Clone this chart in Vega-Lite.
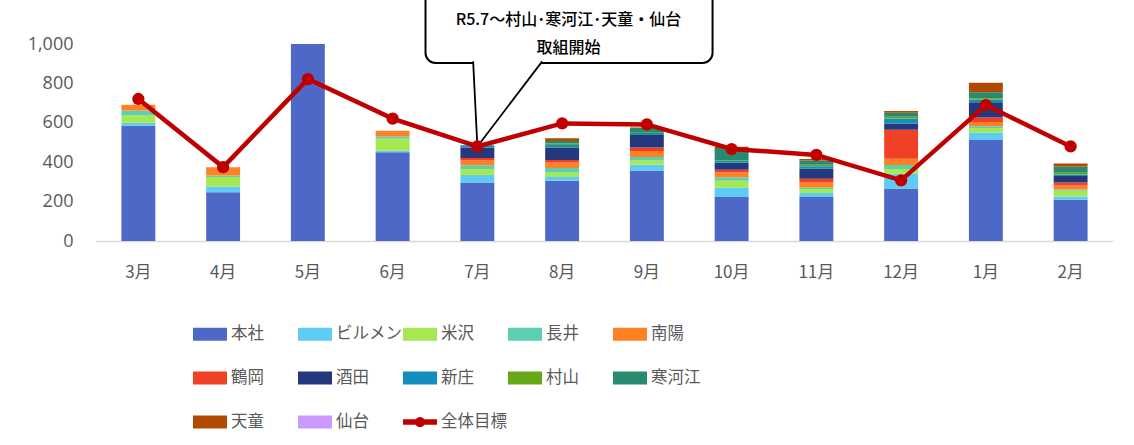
{
  "$schema": "https://vega.github.io/schema/vega-lite/v6.json",
  "width": 1017,
  "height": 197,
  "autosize": {"type": "none"},
  "padding": {"left": 96, "top": 44, "right": 21, "bottom": 204},
  "background": "white",
  "config": {
    "view": {"stroke": null},
    "font": "Noto Sans CJK JP",
    "axis": {"labelFont": "Open Sans", "labelColor": "#595959", "labelFontSize": 18, "titleColor": "#595959"},
    "axisY": {"ticks": false, "domain": false, "grid": true, "gridColor": "#d9d9d9", "gridWidth": 1.5, "labelPadding": 23, "labelOverlap": false, "tickCount": 6}
  },
  "datasets": {
    "bars": [
      {"month": "3月", "series": "本社", "value": 585}, {"month": "3月", "series": "ビルメン", "value": 15}, {"month": "3月", "series": "米沢", "value": 37}, {"month": "3月", "series": "長井", "value": 25}, {"month": "3月", "series": "南陽", "value": 29},
      {"month": "4月", "series": "本社", "value": 247}, {"month": "4月", "series": "ビルメン", "value": 30}, {"month": "4月", "series": "米沢", "value": 48}, {"month": "4月", "series": "長井", "value": 8}, {"month": "4月", "series": "南陽", "value": 41},
      {"month": "5月", "series": "本社", "value": 1000},
      {"month": "6月", "series": "本社", "value": 450}, {"month": "6月", "series": "ビルメン", "value": 8}, {"month": "6月", "series": "米沢", "value": 61}, {"month": "6月", "series": "長井", "value": 12}, {"month": "6月", "series": "南陽", "value": 29},
      {"month": "7月", "series": "本社", "value": 297}, {"month": "7月", "series": "ビルメン", "value": 38}, {"month": "7月", "series": "米沢", "value": 30}, {"month": "7月", "series": "長井", "value": 19}, {"month": "7月", "series": "南陽", "value": 25}, {"month": "7月", "series": "鶴岡", "value": 12}, {"month": "7月", "series": "酒田", "value": 54}, {"month": "7月", "series": "新庄", "value": 10}, {"month": "7月", "series": "寒河江", "value": 2},
      {"month": "8月", "series": "本社", "value": 306}, {"month": "8月", "series": "ビルメン", "value": 19}, {"month": "8月", "series": "米沢", "value": 23}, {"month": "8月", "series": "長井", "value": 22}, {"month": "8月", "series": "南陽", "value": 29}, {"month": "8月", "series": "鶴岡", "value": 12}, {"month": "8月", "series": "酒田", "value": 64}, {"month": "8月", "series": "新庄", "value": 12}, {"month": "8月", "series": "村山", "value": 8}, {"month": "8月", "series": "寒河江", "value": 12}, {"month": "8月", "series": "天童", "value": 14},
      {"month": "9月", "series": "本社", "value": 357}, {"month": "9月", "series": "ビルメン", "value": 30}, {"month": "9月", "series": "米沢", "value": 22}, {"month": "9月", "series": "長井", "value": 17}, {"month": "9月", "series": "南陽", "value": 31}, {"month": "9月", "series": "鶴岡", "value": 17}, {"month": "9月", "series": "酒田", "value": 64}, {"month": "9月", "series": "新庄", "value": 10}, {"month": "9月", "series": "村山", "value": 5}, {"month": "9月", "series": "寒河江", "value": 20}, {"month": "9月", "series": "天童", "value": 3},
      {"month": "10月", "series": "本社", "value": 223}, {"month": "10月", "series": "ビルメン", "value": 49}, {"month": "10月", "series": "米沢", "value": 34}, {"month": "10月", "series": "長井", "value": 17}, {"month": "10月", "series": "南陽", "value": 25}, {"month": "10月", "series": "鶴岡", "value": 14}, {"month": "10月", "series": "酒田", "value": 35}, {"month": "10月", "series": "新庄", "value": 9}, {"month": "10月", "series": "村山", "value": 4}, {"month": "10月", "series": "寒河江", "value": 62}, {"month": "10月", "series": "天童", "value": 7},
      {"month": "11月", "series": "本社", "value": 223}, {"month": "11月", "series": "ビルメン", "value": 21}, {"month": "11月", "series": "米沢", "value": 20}, {"month": "11月", "series": "長井", "value": 8}, {"month": "11月", "series": "南陽", "value": 28}, {"month": "11月", "series": "鶴岡", "value": 16}, {"month": "11月", "series": "酒田", "value": 51}, {"month": "11月", "series": "新庄", "value": 12}, {"month": "11月", "series": "村山", "value": 8}, {"month": "11月", "series": "寒河江", "value": 21}, {"month": "11月", "series": "天童", "value": 8},
      {"month": "12月", "series": "本社", "value": 267}, {"month": "12月", "series": "ビルメン", "value": 75}, {"month": "12月", "series": "米沢", "value": 23}, {"month": "12月", "series": "長井", "value": 21}, {"month": "12月", "series": "南陽", "value": 32}, {"month": "12月", "series": "鶴岡", "value": 147}, {"month": "12月", "series": "酒田", "value": 32}, {"month": "12月", "series": "新庄", "value": 25}, {"month": "12月", "series": "村山", "value": 9}, {"month": "12月", "series": "寒河江", "value": 20}, {"month": "12月", "series": "天童", "value": 9},
      {"month": "1月", "series": "本社", "value": 513}, {"month": "1月", "series": "ビルメン", "value": 38}, {"month": "1月", "series": "米沢", "value": 22}, {"month": "1月", "series": "長井", "value": 9}, {"month": "1月", "series": "南陽", "value": 22}, {"month": "1月", "series": "鶴岡", "value": 23}, {"month": "1月", "series": "酒田", "value": 77}, {"month": "1月", "series": "新庄", "value": 13}, {"month": "1月", "series": "村山", "value": 7}, {"month": "1月", "series": "寒河江", "value": 31}, {"month": "1月", "series": "天童", "value": 48},
      {"month": "2月", "series": "本社", "value": 210}, {"month": "2月", "series": "ビルメン", "value": 16}, {"month": "2月", "series": "米沢", "value": 29}, {"month": "2月", "series": "長井", "value": 7}, {"month": "2月", "series": "南陽", "value": 20}, {"month": "2月", "series": "鶴岡", "value": 15}, {"month": "2月", "series": "酒田", "value": 33}, {"month": "2月", "series": "新庄", "value": 6}, {"month": "2月", "series": "村山", "value": 10}, {"month": "2月", "series": "寒河江", "value": 32}, {"month": "2月", "series": "天童", "value": 16}
    ],
    "target": [
      {"month": "3月", "target": 721}, {"month": "4月", "target": 375}, {"month": "5月", "target": 822}, {"month": "6月", "target": 621},
      {"month": "7月", "target": 480}, {"month": "8月", "target": 597}, {"month": "9月", "target": 592}, {"month": "10月", "target": 467},
      {"month": "11月", "target": 437}, {"month": "12月", "target": 308}, {"month": "1月", "target": 690}, {"month": "2月", "target": 480}
    ],
    "legend": [
      {"month": "3月", "series": "本社", "value": 0}, {"month": "3月", "series": "ビルメン", "value": 0}, {"month": "3月", "series": "米沢", "value": 0},
      {"month": "3月", "series": "長井", "value": 0}, {"month": "3月", "series": "南陽", "value": 0}, {"month": "3月", "series": "鶴岡", "value": 0},
      {"month": "3月", "series": "酒田", "value": 0}, {"month": "3月", "series": "新庄", "value": 0}, {"month": "3月", "series": "村山", "value": 0},
      {"month": "3月", "series": "寒河江", "value": 0}, {"month": "3月", "series": "天童", "value": 0}, {"month": "3月", "series": "仙台", "value": 0},
      {"month": "3月", "series": "全体目標", "value": 0}
    ],
    "box": [{"x1": 3.888, "x2": 7.275, "y1": 903.6, "y2": 1300}],
    "pointer": [
      {"px": 4.45, "py": 912, "pb": 912},
      {"px": 4.5, "py": 480, "pb": 912},
      {"px": 5.265, "py": 912, "pb": 912}
    ],
    "note": [
      {"tx": 5.575, "ty": 1124, "label": "R5.7～村山･寒河江･天童・仙台"},
      {"tx": 5.575, "ty": 978, "label": "取組開始"}
    ]
  },
  "layer": [
    {
      "data": {"name": "box"},
      "mark": {"type": "rect", "fill": "white", "stroke": "black", "strokeWidth": 2, "cornerRadius": 10},
      "encoding": {
        "x": {"field": "x1", "type": "quantitative", "scale": {"domain": [0, 12], "nice": false, "zero": false}, "axis": null},
        "x2": {"field": "x2"},
        "y": {"field": "y1", "type": "quantitative", "scale": {"domain": [0, 1000], "nice": false, "zero": false}, "axis": null},
        "y2": {"field": "y2"}
      }
    },
    {
      "data": {"name": "pointer"},
      "mark": {"type": "area", "fill": "white", "orient": "vertical"},
      "encoding": {
        "x": {"field": "px", "type": "quantitative", "scale": {"domain": [0, 12], "nice": false, "zero": false}, "axis": null},
        "y": {"field": "py", "type": "quantitative", "scale": {"domain": [0, 1000], "nice": false, "zero": false}, "axis": null},
        "y2": {"field": "pb"}
      }
    },
    {
      "data": {"name": "pointer"},
      "mark": {"type": "line", "stroke": "black", "strokeWidth": 1.8},
      "encoding": {
        "x": {"field": "px", "type": "quantitative", "scale": {"domain": [0, 12], "nice": false, "zero": false}, "axis": null},
        "y": {"field": "py", "type": "quantitative", "scale": {"domain": [0, 1000], "nice": false, "zero": false}, "axis": null}
      }
    },
    {
      "data": {"name": "note"},
      "mark": {"type": "text", "fontSize": 16, "fontWeight": 500, "color": "black", "font": "Noto Sans CJK JP", "baseline": "middle", "align": "center"},
      "encoding": {
        "x": {"field": "tx", "type": "quantitative", "scale": {"domain": [0, 12], "nice": false, "zero": false}, "axis": null},
        "y": {"field": "ty", "type": "quantitative", "scale": {"domain": [0, 1000], "nice": false, "zero": false}, "axis": null},
        "text": {"field": "label"}
      }
    },
    {
      "encoding": {
        "x": {
          "field": "month", "type": "ordinal",
          "sort": ["3月", "4月", "5月", "6月", "7月", "8月", "9月", "10月", "11月", "12月", "1月", "2月"],
          "scale": {"paddingInner": 0.6, "paddingOuter": 0.3},
          "title": null,
          "axis": {"labelAngle": 0, "ticks": false, "domainColor": "#d9d9d9", "domainWidth": 1.5, "labelPadding": 23, "labelFont": "Noto Sans CJK JP", "labelFontSize": 17}
        }
      },
      "layer": [
        {
          "data": {"name": "bars"},
          "transform": [
            {"calculate": "indexof(['本社','ビルメン','米沢','長井','南陽','鶴岡','酒田','新庄','村山','寒河江','天童','仙台'], datum.series)", "as": "k"}
          ],
          "mark": {"type": "bar"},
          "encoding": {
            "y": {
              "field": "value", "type": "quantitative", "stack": "zero",
              "scale": {"domain": [0, 1000], "nice": false},
              "title": null,
              "axis": {"format": ",.0f", "tickCount": 6}
            },
            "order": {"field": "k", "type": "quantitative"},
            "color": {
              "field": "series", "type": "nominal",
              "scale": {
                "domain": ["本社", "ビルメン", "米沢", "長井", "南陽", "鶴岡", "酒田", "新庄", "村山", "寒河江", "天童", "仙台", "全体目標"],
                "range": ["#4e68c8", "#5ecbf2", "#a6e84f", "#5dcfb1", "#ff8124", "#f04126", "#25387e", "#128fbc", "#66a818", "#288a70", "#b04a00", "#cc99ff", "#c00000"]
              },
              "legend": {
                "title": null, "orient": "none", "legendX": 97, "legendY": 273,
                "direction": "horizontal", "columns": 5, "gridAlign": "all",
                "symbolSize": 1156, "symbolStrokeWidth": 0, "symbolOpacity": 1,
                "labelFontSize": 16.5, "labelColor": "#595959", "labelFont": "Noto Sans CJK JP",
                "labelOffset": 4, "labelLimit": 200, "columnPadding": 1, "rowPadding": 18
              }
            }
          }
        },
        {
          "data": {"name": "legend"},
          "mark": {"type": "point", "filled": true, "size": 0, "opacity": 1},
          "encoding": {
            "y": {"field": "value", "type": "quantitative", "title": null, "axis": {"format": ",.0f", "tickCount": 6}},
            "color": {"field": "series", "type": "nominal"},
            "shape": {
              "field": "series", "type": "nominal",
              "scale": {
                "domain": ["本社", "ビルメン", "米沢", "長井", "南陽", "鶴岡", "酒田", "新庄", "村山", "寒河江", "天童", "仙台", "全体目標"],
                "range": [
                  "M-1,-0.38H1V0.38H-1Z", "M-1,-0.38H1V0.38H-1Z", "M-1,-0.38H1V0.38H-1Z", "M-1,-0.38H1V0.38H-1Z",
                  "M-1,-0.38H1V0.38H-1Z", "M-1,-0.38H1V0.38H-1Z", "M-1,-0.38H1V0.38H-1Z", "M-1,-0.38H1V0.38H-1Z",
                  "M-1,-0.38H1V0.38H-1Z", "M-1,-0.38H1V0.38H-1Z", "M-1,-0.38H1V0.38H-1Z", "M-1,-0.38H1V0.38H-1Z",
                  "M-1,-0.16H-0.254A0.3,0.3 0 0 1 0.254,-0.16H1V0.16H0.254A0.3,0.3 0 0 1 -0.254,0.16H-1Z"
                ]
              }
            }
          }
        },
        {
          "data": {"name": "target"},
          "mark": {"type": "line", "color": "#c00000", "strokeWidth": 4.5, "point": {"filled": true, "size": 150, "color": "#c00000"}},
          "encoding": {
            "y": {"field": "target", "type": "quantitative", "title": null, "axis": {"format": ",.0f", "tickCount": 6}}
          }
        }
      ]
    }
  ],
  "resolve": {"scale": {"x": "independent", "y": "independent"}}
}
